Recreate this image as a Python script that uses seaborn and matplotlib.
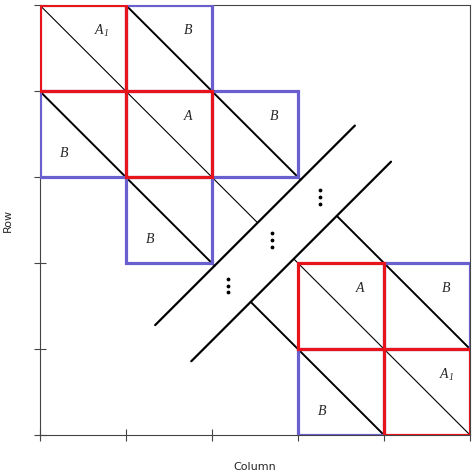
import matplotlib
matplotlib.use("Agg")
import matplotlib.pyplot as plt
import seaborn as sns
import pandas as pd
from matplotlib.patches import Rectangle

sns.set_style("white")
plt.rcParams['font.family'] = ['Liberation Serif', 'DejaVu Serif']
plt.rcParams['mathtext.fontset'] = 'custom'
plt.rcParams['mathtext.it'] = 'Liberation Serif:italic'
plt.rcParams['mathtext.rm'] = 'Liberation Serif:italic'

# cells: (row, col, colour kind, label)
cell_rows = [0, 0, 1, 1, 1, 2, 3, 3, 4, 4]
cell_cols = [0, 1, 0, 1, 2, 1, 3, 4, 3, 4]
cell_kind = ["A", "B", "B", "A", "B", "B", "A", "B", "B", "A"]
cell_labels = ["$A_1$", "B", "B", "A", "B", "B", "A", "B", "B", "$A_1$"]
diag_offsets = [0, 1, -1]
gap_sum = (5.06, 5.9)   # x + y range of the gap between the parallel lines
dots_x = [3.26, 2.70, 2.19]
dots_y = [2.23, 2.73, 3.26]

fig = plt.figure(figsize=(4.74, 4.72), dpi=100)
ax = fig.add_axes([0.084, 0.078, 0.908, 0.911])
ax.set_xlim(0, 5)
ax.set_ylim(5, 0)

for off in diag_offsets:
    x0, x1 = max(0, off), min(5, 5 + off)
    xa = (gap_sum[0] + off) / 2
    xb = (gap_sum[1] + off) / 2
    lw = 0.8 if off == 0 else 1.4
    for (s, e) in [(x0, xa), (xb, x1)]:
        df = pd.DataFrame({"x": [s, e], "y": [s - off, e - off]})
        sns.lineplot(data=df, x="x", y="y", ax=ax, color="black", lw=lw, sort=False)

for c in gap_sum:
    xs = [1.34 + (c - 5.06) * 0.5, 3.66 + (c - 5.06) * 0.5]
    df = pd.DataFrame({"x": xs, "y": [c - xs[0], c - xs[1]]})
    sns.lineplot(data=df, x="x", y="y", ax=ax, color="black", lw=1.6, sort=False)

for dx, dy in zip(dots_x, dots_y):
    ax.scatter([dx] * 3, [dy - 0.08, dy, dy + 0.08], s=3, color="black", zorder=5)

colors = {"A": "#e8141c", "B": "#6a5fcf"}
for r, c, k, lab in zip(cell_rows, cell_cols, cell_kind, cell_labels):
    ax.add_patch(Rectangle((c, r), 1, 1, fill=False, ec=colors[k], lw=2.3,
                           zorder=6 if k == "A" else 4))
    if c >= r:
        ax.text(c + 0.72, r + 0.3, lab, style="italic", fontsize=10, ha="center", va="center")
    else:
        ax.text(c + 0.28, r + 0.72, lab, style="italic", fontsize=10, ha="center", va="center")

ax.set_xticks([0, 1, 2, 3, 4, 5])
ax.set_yticks([0, 1, 2, 3, 4, 5])
ax.set_xticklabels([])
ax.set_yticklabels([])
ax.tick_params(direction="inout", length=8, color="#444444", width=0.8, left=True, bottom=True)
for s in ax.spines.values():
    s.set_color("#444444")
    s.set_linewidth(0.8)
ax.set_xlabel("Column", family="DejaVu Sans", fontsize=8, labelpad=12)
ax.set_ylabel("Row", family="DejaVu Sans", fontsize=8, labelpad=12)
fig.savefig("out.png", dpi=100)
